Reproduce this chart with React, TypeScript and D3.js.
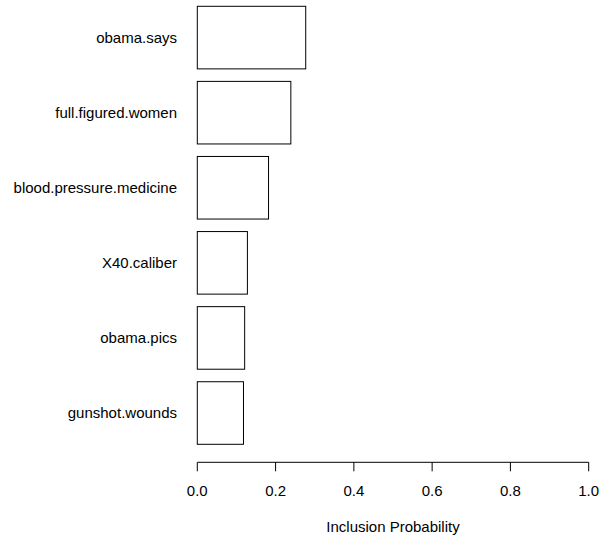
import React from "react";
import * as d3 from "d3";

const categories = [
  "gunshot.wounds",
  "obama.pics",
  "X40.caliber",
  "blood.pressure.medicine",
  "full.figured.women",
  "obama.says",
];
const values = [0.118, 0.121, 0.128, 0.182, 0.239, 0.277];
const xTicks = [0, 0.2, 0.4, 0.6, 0.8, 1.0];
const xTitle = "Inclusion Probability";

const W = 601;
const H = 541;
const FONT = "'Liberation Sans', Arial, Helvetica, sans-serif";

export default function App() {
  const x = d3.scaleLinear().domain([0, 1]).range([197.3, 588.7]);
  // R barplot layout: each bar occupies [0.2 + 1.2*i, 1.2 + 1.2*i]
  const y = d3.scaleLinear().domain([0.2, 7.2]).range([444.3, 6.3]);
  const axisY = 462.3;
  const fmt = d3.format(".1f");

  return (
    <svg
      width={W}
      height={H}
      style={{ position: "absolute", left: 0, top: 0, background: "#fff" }}
      fontFamily={FONT}
    >
      <rect x={0} y={0} width={W} height={H} fill="#fff" />
      {categories.map((c, i) => {
        const y0 = y(0.2 + 1.2 * i);
        const y1 = y(1.2 + 1.2 * i);
        return (
          <g key={c}>
            <rect
              x={x(0)}
              y={y1}
              width={x(values[i]) - x(0)}
              height={y0 - y1}
              fill="#fff"
              stroke="#000"
              strokeWidth={1}
            />
            <text
              x={177}
              y={(y0 + y1) / 2}
              dy="0.35em"
              textAnchor="end"
              fontSize={15}
              fill="#000"
            >
              {c}
            </text>
          </g>
        );
      })}
      <line x1={x(0)} x2={x(1)} y1={axisY} y2={axisY} stroke="#000" strokeWidth={1} />
      {xTicks.map((t) => (
        <g key={t}>
          <line x1={x(t)} x2={x(t)} y1={axisY} y2={axisY + 9} stroke="#000" strokeWidth={1} />
          <text x={x(t)} y={496} textAnchor="middle" fontSize={15} fill="#000">
            {fmt(t)}
          </text>
        </g>
      ))}
      <text x={(x(0) + x(1)) / 2} y={532} textAnchor="middle" fontSize={15} fill="#000">
        {xTitle}
      </text>
    </svg>
  );
}
